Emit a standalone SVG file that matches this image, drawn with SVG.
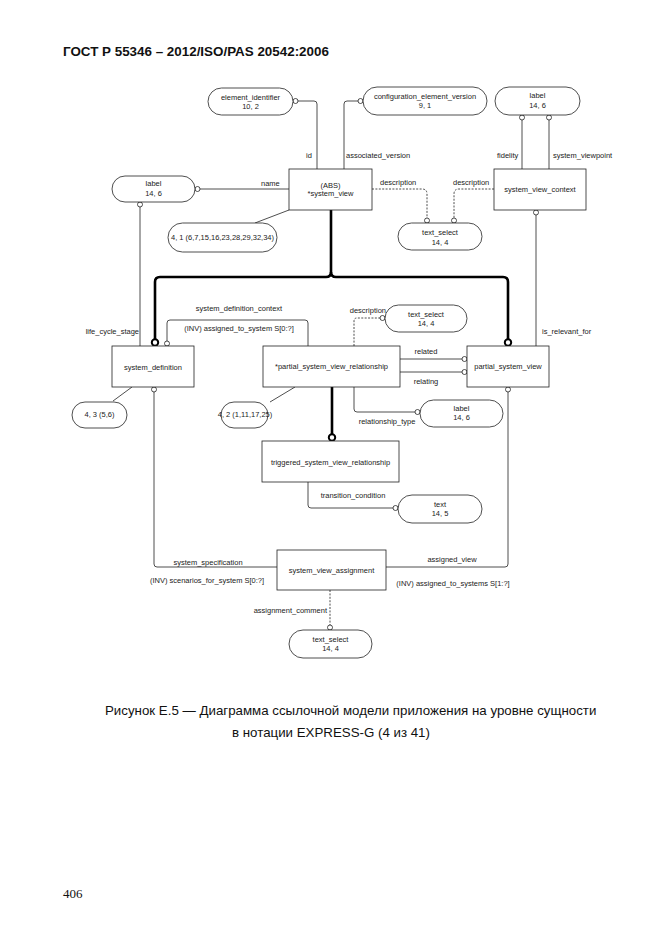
<svg xmlns="http://www.w3.org/2000/svg" width="662" height="935" viewBox="0 0 662 935">
<style>
.bg{fill:#fff}
.box{fill:#fff;stroke:#222;stroke-width:0.8}
.ln{fill:none;stroke:#222;stroke-width:0.8}
.dash{stroke-dasharray:2,1.4}
.thick{fill:none;stroke:#000;stroke-width:2.6}
.c{fill:#fff;stroke:#222;stroke-width:0.8}
.ct{fill:#fff;stroke:#000;stroke-width:2}
.t{font-family:"Liberation Sans",Arial,sans-serif;font-size:7.5px;fill:#222}
.m{text-anchor:middle}
.e{text-anchor:end}
.hdr{font-family:"Liberation Sans",Arial,sans-serif;font-size:13.4px;font-weight:bold;fill:#111}
.cap{font-family:"Liberation Sans",Arial,sans-serif;font-size:13.3px;fill:#111}
.pg{font-family:"Liberation Serif","Times New Roman",serif;font-size:13px;fill:#111}
</style>
<rect class="bg" x="0" y="0" width="662" height="935"/>
<text class="hdr" x="63" y="56">ГОСТ Р 55346 – 2012/ISO/PAS 20542:2006</text>

<g id="connectors">
  <path class="ln" d="M298,101 H314 Q317,101 317,104 V169"/>
  <circle class="c" cx="295.5" cy="101" r="2.5"/>
  <path class="ln" d="M358,101 H347 Q344,101 344,104 V169"/>
  <circle class="c" cx="360.5" cy="101" r="2.5"/>
  <path class="ln" d="M522,120 V169"/>
  <circle class="c" cx="522" cy="117.5" r="2.5"/>
  <path class="ln" d="M549,120 V169"/>
  <circle class="c" cx="549" cy="117.5" r="2.5"/>
  <path class="ln" d="M200,189 H289"/>
  <circle class="c" cx="197.5" cy="189" r="2.5"/>
  <path class="ln" d="M140,207 V346"/>
  <circle class="c" cx="140" cy="204.5" r="2.5"/>
  <path class="ln" d="M255,223 L289,210"/>
  <path class="ln dash" d="M372,189 H422 Q427,189 427,194 V218"/>
  <circle class="c" cx="427" cy="220.5" r="2.5"/>
  <path class="ln dash" d="M494,189 H459 Q454,189 454,194 V218"/>
  <circle class="c" cx="454" cy="220.5" r="2.5"/>
  <path class="ln" d="M536,215 V346"/>
  <circle class="c" cx="536" cy="212.5" r="2.5"/>
  <path class="thick" d="M331,210 V272 Q331,277 326,277 H160 Q155,277 155,282 V339"/>
  <path class="thick" d="M331,272 Q331,277 336,277 H503 Q508,277 508,282 V339"/>
  <circle class="ct" cx="155" cy="342.5" r="3.2"/>
  <circle class="ct" cx="508" cy="342.5" r="3.2"/>
  <path class="ln" d="M167,341 V323 Q167,320 170,320 H305 Q308,320 308,323 V346"/>
  <circle class="c" cx="167" cy="343.5" r="2.5"/>
  <path class="ln" d="M154,392 V564 Q154,567 157,567 H277"/>
  <circle class="c" cx="154" cy="389.5" r="2.5"/>
  <path class="ln" d="M113,401 L132,387"/>
  <path class="ln" d="M270,402 L295,387"/>
  <path class="ln dash" d="M354,346 V321 Q354,318 357,318 H380"/>
  <circle class="c" cx="382.5" cy="318" r="2.5"/>
  <path class="ln" d="M400,359 H462"/>
  <circle class="c" cx="464.5" cy="359" r="2.5"/>
  <path class="ln" d="M400,372 H462"/>
  <circle class="c" cx="464.5" cy="372" r="2.5"/>
  <path class="ln" d="M354,387 V409 Q354,412 357,412 H415"/>
  <circle class="c" cx="417.5" cy="412" r="2.5"/>
  <path class="thick" d="M332,387 V434"/>
  <circle class="ct" cx="332" cy="437.5" r="3.2"/>
  <path class="ln" d="M308,482 V505 Q308,508 311,508 H393"/>
  <circle class="c" cx="395.5" cy="508" r="2.5"/>
  <path class="ln" d="M508,392 V564 Q508,567 505,567 H386"/>
  <circle class="c" cx="508" cy="389.5" r="2.5"/>
  <path class="ln dash" d="M330,590 V625"/>
  <circle class="c" cx="330" cy="627.5" r="2.5"/>

  <text class="t" x="306" y="158">id</text>
  <text class="t" x="346" y="158">associated_version</text>
  <text class="t" x="497" y="158">fidelity</text>
  <text class="t" x="553" y="158">system_viewpoint</text>
  <text class="t" x="261" y="185.5">name</text>
  <text class="t" x="380" y="185">description</text>
  <text class="t" x="453" y="185">description</text>
  <text class="t e" x="139" y="334">life_cycle_stage</text>
  <text class="t" x="542" y="334">is_relevant_for</text>
  <text class="t m" x="239" y="311">system_definition_context</text>
  <text class="t m" x="239" y="330.5">(INV) assigned_to_system S[0:?]</text>
  <text class="t e" x="386" y="313">description</text>
  <text class="t m" x="426" y="353.5">related</text>
  <text class="t m" x="426" y="383.5">relating</text>
  <text class="t m" x="387" y="423.5">relationship_type</text>
  <text class="t m" x="353" y="497.5">transition_condition</text>
  <text class="t m" x="208" y="564.5">system_specification</text>
  <text class="t m" x="207" y="583">(INV) scenarios_for_system S[0:?]</text>
  <text class="t m" x="452" y="561.5">assigned_view</text>
  <text class="t m" x="453" y="586">(INV) assigned_to_systems S[1:?]</text>
  <text class="t e" x="327" y="612.5">assignment_comment</text>
</g>

<g id="element_identifier">
  <rect class="box" x="208" y="88" width="85" height="27" rx="13.5"/>
  <text class="t m" x="250.5" y="99.5">element_identifier</text>
  <text class="t m" x="250.5" y="108.5">10, 2</text>
</g>
<g id="configuration_element_version">
  <rect class="box" x="363" y="87" width="124" height="28" rx="14"/>
  <text class="t m" x="425" y="99">configuration_element_version</text>
  <text class="t m" x="425" y="108">9, 1</text>
</g>
<g id="label_top">
  <rect class="box" x="495" y="87" width="85" height="28" rx="14"/>
  <text class="t m" x="537.5" y="98">label</text>
  <text class="t m" x="537.5" y="108">14, 6</text>
</g>
<g id="system_view">
  <rect class="box" x="289" y="169" width="83" height="41"/>
  <text class="t m" x="330.5" y="187.5">(ABS)</text>
  <text class="t m" x="330.5" y="196">*system_view</text>
</g>
<g id="system_view_context">
  <rect class="box" x="494" y="169" width="92" height="41"/>
  <text class="t m" x="540" y="191.5">system_view_context</text>
</g>
<g id="label_left">
  <rect class="box" x="112" y="176" width="83" height="26" rx="13"/>
  <text class="t m" x="153.5" y="186">label</text>
  <text class="t m" x="153.5" y="195.5">14, 6</text>
</g>
<g id="ref_4_1">
  <rect class="box" x="168" y="223" width="109" height="29" rx="14.5"/>
  <text class="t m" x="222.5" y="240">4, 1 (6,7,15,16,23,28,29,32,34)</text>
</g>
<g id="text_select_top">
  <rect class="box" x="398" y="223" width="84" height="27" rx="13.5"/>
  <text class="t m" x="440" y="235">text_select</text>
  <text class="t m" x="440" y="244.5">14, 4</text>
</g>
<g id="system_definition">
  <rect class="box" x="112" y="346" width="82" height="41"/>
  <text class="t m" x="153" y="369.5">system_definition</text>
</g>
<g id="ref_4_3">
  <rect class="box" x="72" y="402" width="55" height="26" rx="13"/>
  <text class="t m" x="99.5" y="417">4, 3 (5,6)</text>
</g>
<g id="partial_system_view_relationship">
  <rect class="box" x="263" y="346" width="137" height="41"/>
  <text class="t m" x="331.5" y="369">*partial_system_view_relationship</text>
</g>
<g id="text_select_mid">
  <rect class="box" x="385" y="305" width="82" height="27" rx="13.5"/>
  <text class="t m" x="426" y="316.5">text_select</text>
  <text class="t m" x="426" y="326">14, 4</text>
</g>
<g id="partial_system_view">
  <rect class="box" x="467" y="346" width="82" height="41"/>
  <text class="t m" x="508" y="369">partial_system_view</text>
</g>
<g id="ref_4_2">
  <rect class="box" x="221" y="402" width="47" height="26" rx="13"/>
  <text class="t m" x="245" y="417">4, 2 (1,11,17,25)</text>
</g>
<g id="label_reltype">
  <rect class="box" x="420" y="400" width="83" height="27" rx="13.5"/>
  <text class="t m" x="461.5" y="410.5">label</text>
  <text class="t m" x="461.5" y="420">14, 6</text>
</g>
<g id="triggered_system_view_relationship">
  <rect class="box" x="262" y="441" width="137" height="41"/>
  <text class="t m" x="330.5" y="464.5">triggered_system_view_relationship</text>
</g>
<g id="text_14_5">
  <rect class="box" x="398" y="495" width="84" height="28" rx="14"/>
  <text class="t m" x="440" y="506.5">text</text>
  <text class="t m" x="440" y="516">14, 5</text>
</g>
<g id="system_view_assignment">
  <rect class="box" x="277" y="550" width="109" height="40"/>
  <text class="t m" x="331.5" y="572.5">system_view_assignment</text>
</g>
<g id="text_select_bottom">
  <rect class="box" x="289" y="630" width="83" height="28" rx="14"/>
  <text class="t m" x="330.5" y="641.5">text_select</text>
  <text class="t m" x="330.5" y="650.5">14, 4</text>
</g>

<text class="cap" x="105" y="715">Рисунок Е.5 — Диаграмма ссылочной модели приложения на уровне сущности</text>
<text class="cap" x="232" y="737">в нотации EXPRESS-G (4 из 41)</text>
<text class="pg" x="63" y="898">406</text>
</svg>
